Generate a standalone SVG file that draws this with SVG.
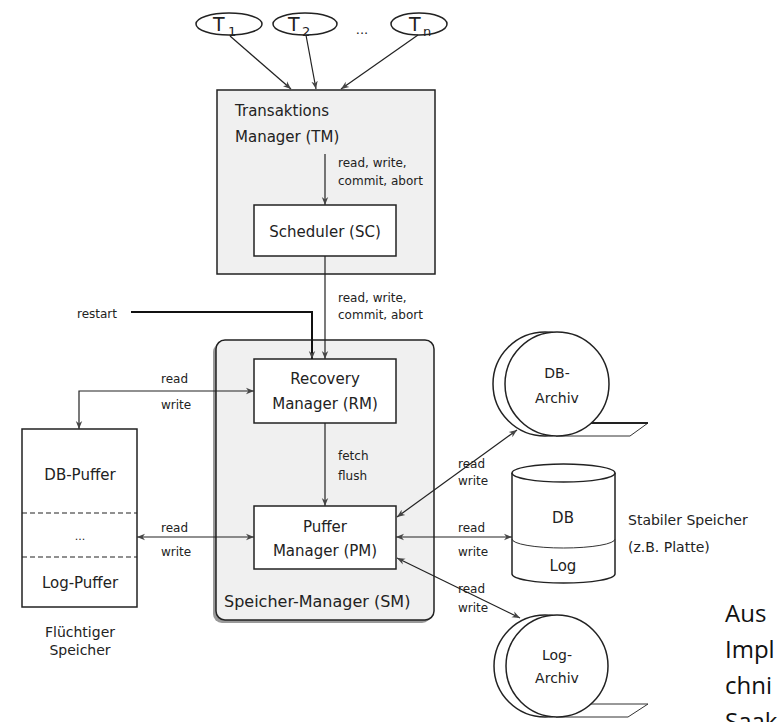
<svg xmlns="http://www.w3.org/2000/svg" width="778" height="722" viewBox="0 0 778 722">
<style>
text{font-family:"DejaVu Sans","Liberation Sans",Arial,sans-serif;fill:#222}
.lbl{font-size:12px}
.big{font-size:15px}
.mid{font-size:14px}
.tt{font-size:19px}
.sub{font-size:13px}
.box{fill:#fff;stroke:#222;stroke-width:1.5}
.gray{fill:#f0f0f0;stroke:#222;stroke-width:1.5}
.ln{fill:none;stroke:#222;stroke-width:1.2}
.thin{fill:none;stroke:#333;stroke-width:1}
.c{text-anchor:middle}
.cap{font-family:"Open Sans","Liberation Sans",sans-serif;font-size:24px;fill:#111}
</style>
<defs>
<marker id="ah" viewBox="0 0 10 10" refX="10" refY="5" markerWidth="8" markerHeight="8" orient="auto-start-reverse" markerUnits="userSpaceOnUse">
<path d="M0,1 L10,5 L0,9 L3,5 Z" fill="#444"/>
</marker>
</defs>
<rect width="778" height="722" fill="#fff"/>

<g id="T1"><ellipse cx="229" cy="24" rx="33" ry="11" class="box" stroke-width="1.2"/><text x="213" y="31" class="tt">T</text><text x="228" y="36" class="sub">1</text></g>
<g id="T2"><ellipse cx="305" cy="24" rx="32" ry="11" class="box" stroke-width="1.2"/><text x="288" y="31" class="tt">T</text><text x="302" y="36" class="sub">2</text></g>
<text x="362" y="34" class="c" style="font-size:13px">...</text>
<g id="Tn"><ellipse cx="419" cy="24" rx="28" ry="11" class="box" stroke-width="1.2"/><text x="409" y="31" class="tt">T</text><text x="423" y="36" class="sub">n</text></g>

<g id="TM"><rect x="217" y="90" width="218" height="184" class="gray"/>
<text x="235" y="116" class="big">Transaktions</text><text x="235" y="142" class="big">Manager (TM)</text></g>
<g id="SC"><rect x="254" y="205" width="142" height="51" class="box"/><text x="325" y="237" class="c big">Scheduler (SC)</text></g>

<g id="SM"><rect x="213" y="343" width="218" height="280" rx="9" fill="#999"/><rect x="216" y="340" width="218" height="280" rx="9" class="gray" stroke-width="1.2"/>
<text x="224" y="607" style="font-size:16px">Speicher-Manager (SM)</text></g>
<g id="RM"><rect x="254" y="359" width="142" height="64" class="box"/><text x="325" y="384" class="c big">Recovery</text><text x="325" y="409" class="c big">Manager (RM)</text></g>
<g id="PM"><rect x="254" y="506" width="142" height="63" class="box"/><text x="325" y="532" class="c big">Puffer</text><text x="325" y="556" class="c big">Manager (PM)</text></g>

<g id="Puffer"><rect x="22" y="429" width="115" height="178" class="box"/>
<line x1="22" y1="513" x2="137" y2="513" stroke="#222" stroke-width="1.2" stroke-dasharray="5,3"/>
<line x1="22" y1="557" x2="137" y2="557" stroke="#222" stroke-width="1.2" stroke-dasharray="5,3"/>
<text x="80" y="480" class="c big">DB-Puffer</text><text x="80" y="540" class="c" style="font-size:11px">...</text><text x="80" y="588" class="c big">Log-Puffer</text>
<text x="80" y="637" class="c mid">Flüchtiger</text><text x="80" y="655" class="c mid">Speicher</text></g>

<g id="DBArchiv">
<circle cx="545" cy="384" r="52" class="box" stroke-width="1.2"/>
<path d="M556,436 L630,436 L648,423 L590,423" class="thin" fill="#fff"/>
<line x1="585" y1="423" x2="648" y2="423" stroke="#222" stroke-width="1.8"/>
<circle cx="557" cy="384" r="52" class="box" stroke-width="1.2"/>
<text x="557" y="378" class="c mid">DB-</text><text x="557" y="403" class="c mid">Archiv</text></g>

<g id="DB"><path d="M512,473 L512,574 A51.5,9 0 0 0 615,574 L615,473" class="box" stroke-width="1.2"/>
<ellipse cx="563.5" cy="473" rx="51.5" ry="9" class="box" stroke-width="1.2"/>
<path d="M512,539 A51.5,9 0 0 0 615,539" class="thin"/>
<text x="563" y="523" class="c big">DB</text><text x="563" y="571" class="c big">Log</text>
<text x="628" y="525" class="mid">Stabiler Speicher</text><text x="628" y="552" class="mid">(z.B. Platte)</text></g>

<g id="LogArchiv">
<circle cx="545" cy="666" r="51" class="box" stroke-width="1.2"/>
<path d="M556,717 L628,717 L648,704 L590,704" class="thin" fill="#fff"/>
<circle cx="557" cy="666" r="51" class="box" stroke-width="1.2"/>
<text x="557" y="660" class="c mid">Log-</text><text x="557" y="683" class="c mid">Archiv</text></g>

<g id="connectors">
<line x1="230" y1="36" x2="291" y2="89" class="ln" marker-end="url(#ah)"/>
<line x1="306" y1="35" x2="316" y2="89" class="ln" marker-end="url(#ah)"/>
<line x1="418" y1="35" x2="341" y2="89" class="ln" marker-end="url(#ah)"/>
<line x1="325" y1="154" x2="325" y2="205" class="ln" marker-end="url(#ah)"/>
<line x1="325" y1="256" x2="325" y2="359" class="ln" marker-end="url(#ah)"/>
<polyline points="131,312 312,312 312,359" fill="none" stroke="#111" stroke-width="2" marker-end="url(#ah)"/>
<polyline points="79,429 79,391 254,391" class="ln" marker-start="url(#ah)" marker-end="url(#ah)"/>
<line x1="137" y1="537" x2="254" y2="537" class="ln" marker-start="url(#ah)" marker-end="url(#ah)"/>
<line x1="325" y1="423" x2="325" y2="506" class="ln" marker-end="url(#ah)"/>
<line x1="397" y1="517" x2="517" y2="430" class="ln" marker-start="url(#ah)" marker-end="url(#ah)"/>
<line x1="396" y1="537" x2="512" y2="537" class="ln" marker-start="url(#ah)" marker-end="url(#ah)"/>
<line x1="397" y1="558" x2="520" y2="618" class="ln" marker-start="url(#ah)" marker-end="url(#ah)"/>
</g>

<g id="labels">
<text x="338" y="167" class="lbl">read, write,</text><text x="338" y="185" class="lbl">commit, abort</text>
<text x="338" y="302" class="lbl">read, write,</text><text x="338" y="319" class="lbl">commit, abort</text>
<text x="77" y="318" class="lbl">restart</text>
<text x="161" y="383" class="lbl">read</text><text x="161" y="409" class="lbl">write</text>
<text x="338" y="460" class="lbl">fetch</text><text x="338" y="480" class="lbl">flush</text>
<text x="161" y="532" class="lbl">read</text><text x="161" y="556" class="lbl">write</text>
<text x="458" y="468" class="lbl">read</text><text x="458" y="485" class="lbl">write</text>
<text x="458" y="532" class="lbl">read</text><text x="458" y="556" class="lbl">write</text>
<text x="458" y="593" class="lbl">read</text><text x="458" y="612" class="lbl">write</text>
</g>

<g id="caption">
<text x="725" y="622" class="cap">Aus</text>
<text x="725" y="658" class="cap">Impl</text>
<text x="725" y="694" class="cap">chni</text>
<text x="725" y="730" class="cap">Saak</text>
</g>
</svg>
